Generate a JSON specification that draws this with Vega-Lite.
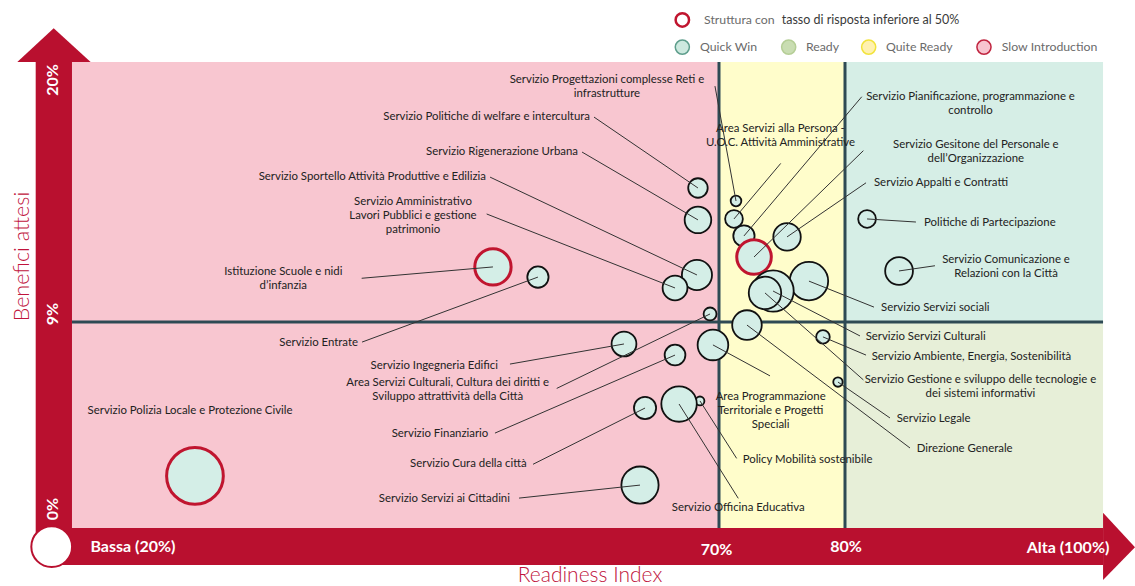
{
  "$schema": "https://vega.github.io/schema/vega-lite/v6.json",
  "width": 1135,
  "height": 586,
  "padding": 0,
  "autosize": {"type": "none"},
  "background": "white",
  "config": {"view": {"stroke": null}},
  "datasets": {
    "quadranti": [
      {"categoria": "Slow Introduction", "x": 18.65, "x2": 70, "y": 0.285, "y2": 20},
      {"categoria": "Quite Ready", "x": 70, "x2": 80, "y": 0.285, "y2": 20},
      {"categoria": "Quick Win", "x": 80, "x2": 100.48, "y": 9, "y2": 20},
      {"categoria": "Ready", "x": 80, "x2": 100.48, "y": 0.285, "y2": 9}
    ],
    "soglie": [
      {"x": 70, "y": 0.285, "x2": 70, "y2": 20},
      {"x": 80, "y": 0.285, "x2": 80, "y2": 20},
      {"x": 18.65, "y": 9, "x2": 100.48, "y2": 9}
    ],
    "barre_assi": [
      {"asse": "Benefici attesi", "x": 15.77, "x2": 18.65, "y": -0.6, "y2": 20},
      {"asse": "Readiness Index", "x": 17.04, "x2": 100.48, "y": -1.281, "y2": 0.285}
    ],
    "punta_verticale": [
      {"x": 14.31, "y": 20, "y2": 20},
      {"x": 17.2, "y": 21.43, "y2": 20},
      {"x": 20.13, "y": 20, "y2": 20}
    ],
    "punta_orizzontale": [
      {"y": 0.932, "x": 100.48, "x2": 100.48},
      {"y": -0.532, "x": 103.02, "x2": 100.48},
      {"y": -1.915, "x": 100.48, "x2": 100.48}
    ],
    "origine": [{"x": 17.04, "y": -0.507}],
    "etichette_asse_y": [
      {"testo": "20%", "x": 17.17, "y": 19.24},
      {"testo": "9%", "x": 17.17, "y": 9.34},
      {"testo": "0%", "x": 17.17, "y": 1.09}
    ],
    "etichette_asse_x": [
      {"testo": "Bassa (20%)", "x": 23.49, "y": -0.53},
      {"testo": "70%", "x": 69.8, "y": -0.65},
      {"testo": "80%", "x": 80.08, "y": -0.52},
      {"testo": "Alta (100%)", "x": 97.7, "y": -0.57}
    ],
    "servizi": [
      {"servizio": "Servizio Polizia Locale e Protezione Civile", "x": 28.41, "y": 2.49, "dimensione": 1024, "bassa_risposta": true, "lx": null, "ly": null},
      {"servizio": "Istituzione Scuole e nidi d'infanzia", "x": 52.06, "y": 11.33, "dimensione": 420, "bassa_risposta": true, "lx": 41.64, "ly": 10.85},
      {"servizio": "Servizio Entrate", "x": 55.63, "y": 10.9, "dimensione": 144, "bassa_risposta": false, "lx": 41.67, "ly": 8.15},
      {"servizio": "Servizio Politiche di welfare e intercultura", "x": 68.33, "y": 14.67, "dimensione": 121, "bassa_risposta": false, "lx": 60.08, "ly": 17.67},
      {"servizio": "Servizio Rigenerazione Urbana", "x": 68.33, "y": 13.32, "dimensione": 225, "bassa_risposta": false, "lx": 59.13, "ly": 16.19},
      {"servizio": "Servizio Sportello Attività Produttive e Edilizia", "x": 68.25, "y": 10.99, "dimensione": 289, "bassa_risposta": false, "lx": 51.83, "ly": 15.13},
      {"servizio": "Servizio Amministrativo Lavori Pubblici e gestione patrimonio", "x": 66.51, "y": 10.44, "dimensione": 196, "bassa_risposta": false, "lx": 51.56, "ly": 13.57},
      {"servizio": "Servizio Progettazioni complesse Reti e infrastrutture", "x": 71.35, "y": 14.12, "dimensione": 36, "bassa_risposta": false, "lx": 69.68, "ly": 18.98},
      {"servizio": "Area Servizi alla Persona - U.O.C. Attività Amministrative", "x": 71.19, "y": 13.36, "dimensione": 100, "bassa_risposta": false, "lx": 74.9, "ly": 15.71},
      {"servizio": "Servizio Pianificazione, programmazione e controllo", "x": 71.98, "y": 12.64, "dimensione": 144, "bassa_risposta": false, "lx": 81.33, "ly": 18.53},
      {"servizio": "Servizio Gesitone del Personale e dell'Organizzazione", "x": 72.78, "y": 11.75, "dimensione": 380, "bassa_risposta": true, "lx": 81.46, "ly": 16.25},
      {"servizio": "Servizio Appalti e Contratti", "x": 75.4, "y": 12.6, "dimensione": 240, "bassa_risposta": false, "lx": 81.67, "ly": 14.89},
      {"servizio": "Servizio Servizi sociali", "x": 77.14, "y": 10.73, "dimensione": 470, "bassa_risposta": false, "lx": 82.3, "ly": 9.63},
      {"servizio": "Servizio Servizi Culturali", "x": 74.29, "y": 10.31, "dimensione": 543, "bassa_risposta": false, "lx": 81.19, "ly": 8.41},
      {"servizio": "Servizio Gestione e sviluppo delle tecnologie e dei sistemi informativi", "x": 73.65, "y": 10.23, "dimensione": 335, "bassa_risposta": false, "lx": 81.46, "ly": 6.55},
      {"servizio": "Area Servizi Culturali, Cultura dei diritti e Sviluppo attrattività della Città", "x": 69.29, "y": 9.34, "dimensione": 53, "bassa_risposta": false, "lx": 57.12, "ly": 6.19},
      {"servizio": "Direzione Generale", "x": 72.22, "y": 8.87, "dimensione": 279, "bassa_risposta": false, "lx": 85.16, "ly": 3.67},
      {"servizio": "Area Programmazione Territoriale e Progetti Speciali", "x": 69.52, "y": 8.03, "dimensione": 299, "bassa_risposta": false, "lx": 74.05, "ly": 6.72},
      {"servizio": "Servizio Ambiente, Energia, Sostenibilità", "x": 78.25, "y": 8.37, "dimensione": 59, "bassa_risposta": false, "lx": 81.67, "ly": 7.6},
      {"servizio": "Servizio Legale", "x": 79.44, "y": 6.46, "dimensione": 28, "bassa_risposta": false, "lx": 83.57, "ly": 4.94},
      {"servizio": "Policy Mobilità sostenibile", "x": 68.49, "y": 5.66, "dimensione": 25, "bassa_risposta": false, "lx": 71.4, "ly": 3.23},
      {"servizio": "Servizio Officina Educativa", "x": 66.83, "y": 5.53, "dimensione": 400, "bassa_risposta": false, "lx": 71.53, "ly": 1.54},
      {"servizio": "Servizio Cura della città", "x": 64.13, "y": 5.36, "dimensione": 156, "bassa_risposta": false, "lx": 55.24, "ly": 2.98},
      {"servizio": "Servizio Servizi ai Cittadini", "x": 63.73, "y": 2.1, "dimensione": 441, "bassa_risposta": false, "lx": 54.13, "ly": 1.55},
      {"servizio": "Servizio Ingegneria Edifici", "x": 62.46, "y": 8.07, "dimensione": 196, "bassa_risposta": false, "lx": 53.41, "ly": 7.22},
      {"servizio": "Servizio Finanziario", "x": 66.51, "y": 7.6, "dimensione": 137, "bassa_risposta": false, "lx": 52.22, "ly": 4.3},
      {"servizio": "Politiche di Partecipazione", "x": 81.75, "y": 13.36, "dimensione": 100, "bassa_risposta": false, "lx": 85.63, "ly": 13.23},
      {"servizio": "Servizio Comunicazione e Relazioni con la Città", "x": 84.29, "y": 11.16, "dimensione": 246, "bassa_risposta": false, "lx": 87.14, "ly": 11.38}
    ],
    "etichette_destra": [
      {"testo": "Servizio Politiche di welfare e intercultura", "x": 59.76, "y": 17.67},
      {"testo": "Servizio Rigenerazione Urbana", "x": 58.81, "y": 16.19},
      {"testo": "Servizio Sportello Attività Produttive e Edilizia", "x": 51.51, "y": 15.13},
      {"testo": "Servizio Entrate", "x": 41.35, "y": 8.11},
      {"testo": "Servizio Ingegneria Edifici", "x": 52.46, "y": 7.14},
      {"testo": "Servizio Finanziario", "x": 51.69, "y": 4.25},
      {"testo": "Servizio Cura della città", "x": 54.74, "y": 2.98},
      {"testo": "Servizio Servizi ai Cittadini", "x": 53.41, "y": 1.51}
    ],
    "etichette_sinistra": [
      {"testo": "Servizio Appalti e Contratti", "x": 82.3, "y": 14.87},
      {"testo": "Politiche di Partecipazione", "x": 86.27, "y": 13.2},
      {"testo": "Servizio Servizi sociali", "x": 82.86, "y": 9.61},
      {"testo": "Servizio Servizi Culturali", "x": 81.64, "y": 8.35},
      {"testo": "Servizio Ambiente, Energia, Sostenibilità", "x": 82.12, "y": 7.53},
      {"testo": "Servizio Legale", "x": 84.1, "y": 4.88},
      {"testo": "Direzione Generale", "x": 85.69, "y": 3.61},
      {"testo": "Policy Mobilità sostenibile", "x": 71.88, "y": 3.16}
    ],
    "etichette_centrate": [
      {"testo": "Servizio Progettazioni complesse Reti e\ninfrastrutture", "x": 61.11, "y": 19.24},
      {"testo": "Servizio Amministrativo\nLavori Pubblici e gestione\npatrimonio", "x": 45.71, "y": 14.09},
      {"testo": "Istituzione Scuole e nidi\nd’infanzia", "x": 35.42, "y": 11.13},
      {"testo": "Area Servizi Culturali, Cultura dei diritti e\nSviluppo attrattività della Città", "x": 48.47, "y": 6.41},
      {"testo": "Servizio Polizia Locale e Protezione Civile", "x": 28.02, "y": 5.23},
      {"testo": "Servizio Officina Educativa", "x": 71.53, "y": 1.12},
      {"testo": "Area Programmazione\nTerritoriale e Progetti\nSpeciali", "x": 74.1, "y": 5.84},
      {"testo": "Area Servizi alla Persona -\nU.O.C. Attività Amministrative", "x": 74.88, "y": 17.15},
      {"testo": "Servizio Pianificazione, programmazione e\ncontrollo", "x": 89.96, "y": 18.53},
      {"testo": "Servizio Gesitone del Personale e\ndell’Organizzazione", "x": 90.38, "y": 16.49},
      {"testo": "Servizio Comunicazione e\nRelazioni con la Città", "x": 92.78, "y": 11.62},
      {"testo": "Servizio Gestione e sviluppo delle tecnologie e\ndei sistemi informativi", "x": 90.75, "y": 6.55}
    ],
    "legenda_simboli": [
      {"categoria": "Quick Win", "x": 67.09, "y": 20.63},
      {"categoria": "Ready", "x": 75.53, "y": 20.63},
      {"categoria": "Quite Ready", "x": 81.88, "y": 20.63},
      {"categoria": "Slow Introduction", "x": 91.03, "y": 20.63}
    ],
    "legenda_testi": [
      {"testo": "Struttura con", "x": 68.81, "y": 21.78},
      {"testo": "Quick Win", "x": 68.49, "y": 20.63},
      {"testo": "Ready", "x": 76.9, "y": 20.63},
      {"testo": "Quite Ready", "x": 83.25, "y": 20.63},
      {"testo": "Slow Introduction", "x": 92.44, "y": 20.63}
    ]
  },
  "encoding": {
    "x": {"field": "x", "type": "quantitative", "scale": {"domain": [12.937, 103.016], "nice": false, "zero": false}, "axis": null},
    "y": {"field": "y", "type": "quantitative", "scale": {"domain": [-2.169, 22.623], "nice": false, "zero": false}, "axis": null}
  },
  "layer": [
    {
      "data": {"name": "quadranti"},
      "mark": {"type": "rect", "strokeWidth": 0},
      "encoding": {
        "x2": {"field": "x2"},
        "y2": {"field": "y2"},
        "color": {"field": "categoria", "type": "nominal", "legend": null,
          "scale": {"domain": ["Quick Win", "Ready", "Quite Ready", "Slow Introduction"], "range": ["#D6EEE6", "#E7EFD8", "#FFFDCB", "#F8C6D0"]}}
      }
    },
    {
      "data": {"name": "soglie"},
      "mark": {"type": "rule", "color": "#2E4A54", "strokeWidth": 3},
      "encoding": {"x2": {"field": "x2"}, "y2": {"field": "y2"}}
    },
    {
      "data": {"name": "barre_assi"},
      "mark": {"type": "rect", "color": "#B9102F", "strokeWidth": 0},
      "encoding": {"x2": {"field": "x2"}, "y2": {"field": "y2"}}
    },
    {
      "data": {"name": "punta_verticale"},
      "mark": {"type": "area", "orient": "vertical", "color": "#B9102F", "opacity": 1},
      "encoding": {"y2": {"field": "y2"}}
    },
    {
      "data": {"name": "punta_orizzontale"},
      "mark": {"type": "area", "orient": "horizontal", "color": "#B9102F", "opacity": 1},
      "encoding": {"x2": {"field": "x2"}}
    },
    {
      "data": {"name": "origine"},
      "mark": {"type": "point", "shape": "circle", "size": 1662, "fill": "white", "stroke": "#B9102F", "strokeWidth": 2, "opacity": 1, "fillOpacity": 1}
    },
    {
      "data": {"name": "etichette_asse_y"},
      "mark": {"type": "text", "angle": 270, "align": "center", "baseline": "middle", "font": "Lato", "fontWeight": "bold", "fontSize": 16, "color": "white"},
      "encoding": {"text": {"field": "testo"}}
    },
    {
      "data": {"name": "etichette_asse_x"},
      "mark": {"type": "text", "align": "center", "baseline": "middle", "font": "Lato", "fontWeight": "bold", "fontSize": 16, "color": "white"},
      "encoding": {"text": {"field": "testo"}}
    },
    {
      "data": {"values": [{"titolo": "Benefici attesi", "x": 14.76, "y": 11.77}]},
      "mark": {"type": "text", "angle": 270, "align": "center", "baseline": "middle", "font": "Lato", "fontWeight": 300, "fontSize": 21.5, "color": "#C0143C"},
      "encoding": {"text": {"field": "titolo"}}
    },
    {
      "data": {"values": [{"titolo": "Readiness Index", "x": 59.76, "y": -1.725}]},
      "mark": {"type": "text", "align": "center", "baseline": "middle", "font": "Lato", "fontWeight": 300, "fontSize": 21, "color": "#C0143C"},
      "encoding": {"text": {"field": "titolo"}}
    },
    {
      "data": {"name": "servizi"},
      "mark": {"type": "point", "shape": "circle", "fill": "#D4EEE7", "opacity": 1, "fillOpacity": 1, "strokeOpacity": 1},
      "encoding": {
        "size": {"field": "dimensione", "type": "quantitative", "legend": null, "scale": {"type": "linear", "domain": [0, 1000], "range": [0, 3141.6]}},
        "stroke": {"condition": {"test": "datum.bassa_risposta", "value": "#C0152F"}, "value": "#111111"},
        "strokeWidth": {"condition": {"test": "datum.bassa_risposta", "value": 3}, "value": 1.8}
      }
    },
    {
      "data": {"name": "servizi"},
      "transform": [{"filter": "datum.lx != null"}],
      "mark": {"type": "rule", "color": "#333333", "strokeWidth": 1},
      "encoding": {"x2": {"field": "lx"}, "y2": {"field": "ly"}}
    },
    {
      "data": {"name": "etichette_destra"},
      "mark": {"type": "text", "align": "right", "baseline": "middle", "font": "Lato", "fontSize": 11.4, "color": "#222222"},
      "encoding": {"text": {"field": "testo"}}
    },
    {
      "data": {"name": "etichette_sinistra"},
      "mark": {"type": "text", "align": "left", "baseline": "middle", "font": "Lato", "fontSize": 11.4, "color": "#222222"},
      "encoding": {"text": {"field": "testo"}}
    },
    {
      "data": {"name": "etichette_centrate"},
      "mark": {"type": "text", "align": "center", "baseline": "middle", "font": "Lato", "fontSize": 11.4, "color": "#222222", "lineBreak": "\n", "lineHeight": 14},
      "encoding": {"text": {"field": "testo"}}
    },
    {
      "data": {"values": [{"voce": "Struttura con tasso di risposta inferiore al 50%", "x": 67.09, "y": 21.78}]},
      "mark": {"type": "point", "shape": "circle", "size": 180, "fill": "white", "stroke": "#C0152F", "strokeWidth": 2.5, "opacity": 1, "fillOpacity": 1}
    },
    {
      "data": {"name": "legenda_simboli"},
      "mark": {"type": "point", "shape": "circle", "size": 200, "strokeWidth": 1.5, "opacity": 1, "fillOpacity": 1},
      "encoding": {
        "fill": {"field": "categoria", "type": "nominal", "legend": null,
          "scale": {"domain": ["Quick Win", "Ready", "Quite Ready", "Slow Introduction"], "range": ["#CDE9DF", "#C9DDB2", "#FFF1B0", "#F7C4CF"]}},
        "stroke": {"field": "categoria", "type": "nominal", "legend": null,
          "scale": {"domain": ["Quick Win", "Ready", "Quite Ready", "Slow Introduction"], "range": ["#5E9E8C", "#B5CE96", "#F2E33C", "#C0243F"]}}
      }
    },
    {
      "data": {"name": "legenda_testi"},
      "mark": {"type": "text", "align": "left", "baseline": "middle", "font": "Lato", "fontSize": 12.3, "color": "#6B6B6B"},
      "encoding": {"text": {"field": "testo"}}
    },
    {
      "data": {"values": [{"testo": "tasso di risposta inferiore al 50%", "x": 74.98, "y": 21.78}]},
      "mark": {"type": "text", "align": "left", "baseline": "middle", "font": "Lato", "fontSize": 12.5, "color": "#3A3A3A"},
      "encoding": {"text": {"field": "testo"}}
    }
  ]
}
